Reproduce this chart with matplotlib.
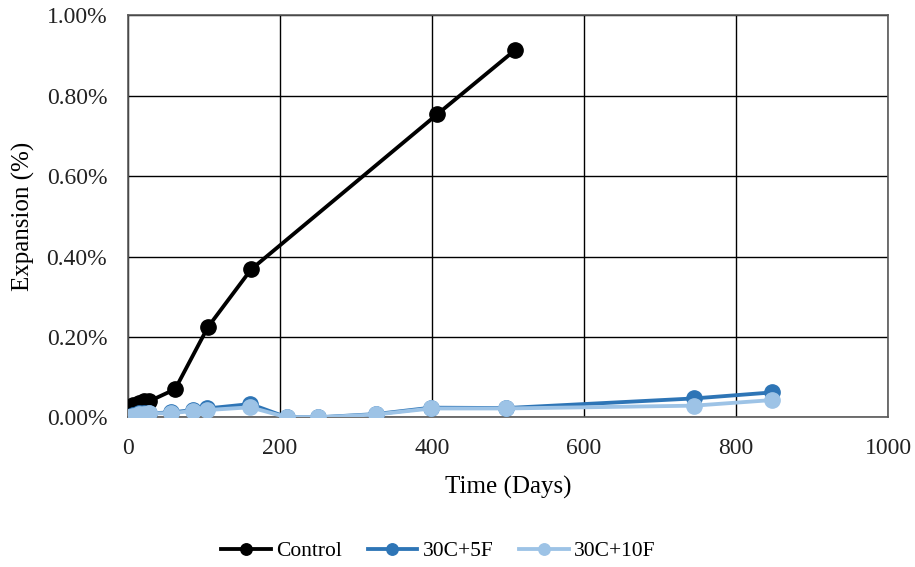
import numpy as np
import matplotlib.pyplot as plt
from matplotlib.ticker import FuncFormatter

# data
ctrl_days = [0, 7, 14, 21, 28, 62, 105, 162, 407, 509]
ctrl_exp = [0.0, 0.03, 0.035, 0.04, 0.04, 0.07, 0.224, 0.368, 0.754, 0.913]

f5_days = [0, 7, 14, 21, 28, 56, 86, 104, 161, 209, 250, 326, 399, 497, 745, 848]
f5_exp = [0.0, 0.005, 0.01, 0.01, 0.01, 0.012, 0.018, 0.022, 0.033, 0.0, 0.0, 0.008, 0.024, 0.023, 0.047, 0.062]

f10_days = [0, 7, 14, 21, 28, 56, 86, 104, 161, 209, 250, 326, 399, 497, 745, 848]
f10_exp = [0.0, 0.003, 0.007, 0.008, 0.01, 0.01, 0.016, 0.018, 0.025, 0.0, 0.0, 0.007, 0.022, 0.022, 0.029, 0.043]

plt.rcParams['font.family'] = ['Liberation Serif', 'DejaVu Serif']

fig = plt.figure(figsize=(9.15, 5.67), dpi=100)
ax = fig.add_axes([0.1399, 0.2640, 0.8306, 0.7090])

ax.plot(ctrl_days, ctrl_exp, color='black', lw=2.75, marker='o', ms=11, label='Control', zorder=3)
ax.plot(f5_days, f5_exp, color='#2E75B6', lw=2.75, marker='o', ms=11, label='30C+5F', zorder=4)
ax.plot(f10_days, f10_exp, color='#9DC3E6', lw=2.75, marker='o', ms=11, label='30C+10F', zorder=5)

ax.set_xlim(0, 1000)
ax.set_ylim(0, 1.0)
ax.set_xticks(np.arange(0, 1001, 200))
ax.set_yticks(np.arange(0, 1.01, 0.2))
ax.yaxis.set_major_formatter(FuncFormatter(lambda v, p: '%.2f%%' % v))
ax.grid(True, color='black', lw=1)
ax.set_axisbelow(True)
for s in ax.spines.values():
    s.set_color('#595959')
    s.set_linewidth(1.2)
ax.tick_params(length=0, labelsize=17, labelcolor='#222222')
ax.tick_params(axis='y', pad=15)
ax.tick_params(axis='x', pad=15)

ax.set_xlabel('Time (Days)', fontsize=18, labelpad=12)
ax.set_ylabel('Expansion (%)', fontsize=18, labelpad=8)

fig.legend(loc='center', bbox_to_anchor=(0.479, 0.028), ncol=3, frameon=False,
           fontsize=15.5, handlelength=2.3, columnspacing=1.2, handletextpad=0.25,
           markerscale=0.75)

fig.savefig('out.png', dpi=100)
